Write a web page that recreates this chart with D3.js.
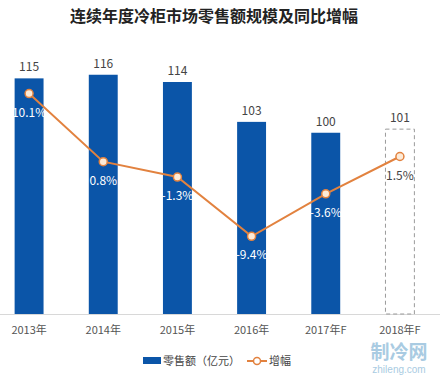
<!DOCTYPE html>
<html>
<head>
<meta charset="utf-8">
<title>冷柜零售额</title>
<script src="https://cdn.jsdelivr.net/npm/d3@7/dist/d3.min.js"></script>
<style>
  body { margin:0; background:#fff; }
  svg { display:block; font-family:"Noto Sans CJK SC","Noto Sans",sans-serif; }
</style>
</head>
<body>
<script>
// data
var years   = ["2013年","2014年","2015年","2016年","2017年F","2018年F"];
var sales   = [115, 116, 114, 103, 100, 101];      // 亿元
var growth  = [10.1, 0.8, -1.3, -9.4, -3.6, 1.5];  // %
var forecastIdx = 5;  // dashed box for last year

var W = 443, H = 375;
var svg = d3.select("body").append("svg")
    .attr("width", W).attr("height", H);

var blue = "#0b55a8", orange = "#e2823f";

// scales
var x = d3.scaleBand().domain(years).range([-8, 437]).paddingInner(0.61).paddingOuter(0.305);
var y = d3.scaleLinear().domain([50, 130]).range([314, 24]);
var y2 = d3.scaleLinear().domain([-20, 20]).range([314, 21]);

// title
svg.append("text")
    .attr("x", 214).attr("y", 22)
    .attr("text-anchor", "middle")
    .attr("font-size", 16).attr("font-weight", "bold")
    .attr("fill", "#222")
    .text("连续年度冷柜市场零售额规模及同比增幅");

// axis line
svg.append("line")
    .attr("x1", 0).attr("x2", 440)
    .attr("y1", 314.5).attr("y2", 314.5)
    .attr("stroke", "#d8d8d8");

var xAxis = svg.append("g")
    .attr("transform", "translate(0,314)")
    .call(d3.axisBottom(x).tickSize(0).tickPadding(12));
xAxis.select(".domain").remove();
xAxis.selectAll("text")
    .attr("font-size", 11).attr("fill", "#555")
    .style("font-family", "'Noto Sans CJK SC',sans-serif");

// bars
var bars = svg.selectAll(".bar").data(sales).enter();
bars.append("rect")
    .attr("x", function(d, i) { return x(years[i]); })
    .attr("y", function(d) { return y(d); })
    .attr("width", x.bandwidth())
    .attr("height", function(d) { return y(50) - y(d); })
    .attr("fill", function(d, i) { return i == forecastIdx ? "none" : blue; })
    .attr("stroke", function(d, i) { return i == forecastIdx ? "#9a9a9a" : "none"; })
    .attr("stroke-dasharray", "4,3");

// value labels
bars.append("text")
    .attr("x", function(d, i) { return x(years[i]) + x.bandwidth() / 2; })
    .attr("y", function(d) { return y(d) - 7; })
    .attr("text-anchor", "middle")
    .attr("font-size", 12).attr("fill", "#444")
    .text(function(d) { return d; });

// growth line
var cx = function(d, i) { return x(years[i]) + x.bandwidth() / 2; };
var line = d3.line().x(cx).y(function(d) { return y2(d); });
svg.append("path")
    .datum(growth)
    .attr("d", line)
    .attr("fill", "none")
    .attr("stroke", orange)
    .attr("stroke-width", 2);

svg.selectAll(".pt").data(growth).enter().append("circle")
    .attr("cx", cx)
    .attr("cy", function(d) { return y2(d); })
    .attr("r", 4)
    .attr("fill", "#fdebd8")
    .attr("stroke", orange)
    .attr("stroke-width", 1.5);

svg.selectAll(".gl").data(growth).enter().append("text")
    .attr("x", cx)
    .attr("y", function(d) { return y2(d) + 23; })
    .attr("text-anchor", "middle")
    .attr("font-size", 12)
    .attr("fill", function(d, i) { return i == forecastIdx ? "#444" : "#fff"; })
    .text(function(d) { return d + "%"; });

// legend
var lg = svg.append("g");
lg.append("rect").attr("x", 143).attr("y", 357).attr("width", 18).attr("height", 7).attr("fill", blue);
lg.append("text").attr("x", 163).attr("y", 365).attr("font-size", 11).attr("fill", "#444").text("零售额（亿元）");
lg.append("line").attr("x1", 247).attr("x2", 267).attr("y1", 361).attr("y2", 361)
    .attr("stroke", orange).attr("stroke-width", 2);
lg.append("circle").attr("cx", 257).attr("cy", 361).attr("r", 3.5)
    .attr("fill", "#fff").attr("stroke", orange).attr("stroke-width", 1.5);
lg.append("text").attr("x", 269).attr("y", 365).attr("font-size", 11).attr("fill", "#444").text("增幅");

// watermark
svg.append("text").attr("x", 399).attr("y", 359).attr("text-anchor", "middle")
    .attr("font-size", 19).attr("font-weight", "bold").attr("fill", "#a9cbe2").text("制冷网");
svg.append("text").attr("x", 399).attr("y", 373).attr("text-anchor", "middle")
    .attr("font-size", 10).attr("fill", "#a9cbe2").style("font-family", "Arial, 'Liberation Sans'").text("zhileng.com");
</script>
</body>
</html>
